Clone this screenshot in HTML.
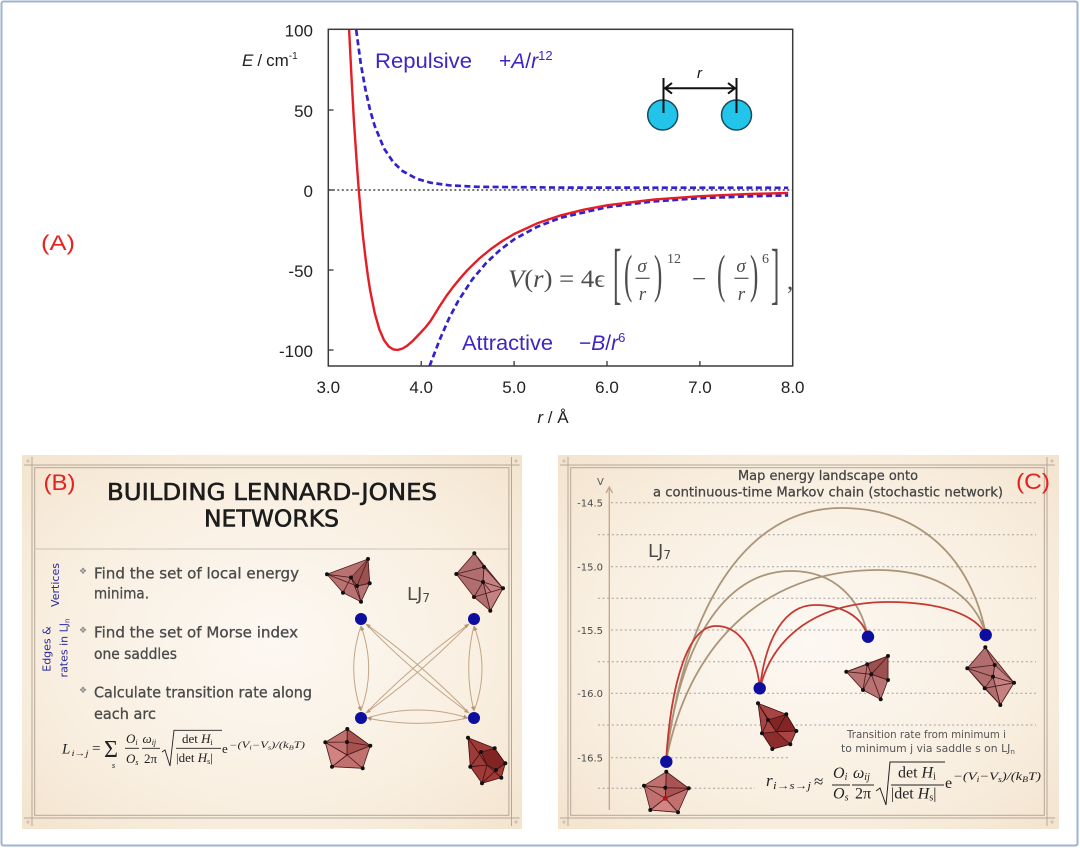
<!DOCTYPE html>
<html><head><meta charset="utf-8"><style>html,body{margin:0;padding:0;background:#fff}svg{display:block}</style></head>
<body>
<svg width="1080" height="848" viewBox="0 0 1080 848" xmlns="http://www.w3.org/2000/svg">
<defs>
<radialGradient id="cream" cx="50%" cy="50%" r="72%">
<stop offset="0" stop-color="#fcf8f2"/>
<stop offset="0.6" stop-color="#f9efe1"/>
<stop offset="1" stop-color="#f3e3cd"/>
</radialGradient>
<marker id="ah" viewBox="0 0 6 6" refX="5.5" refY="3" markerWidth="5" markerHeight="5" orient="auto"><path d="M0,0.5 L6,3 L0,5.5z" fill="#b39474"/></marker>
</defs>
<rect x="0" y="0" width="1080" height="848" fill="#fff"/>
<rect x="1.5" y="1.5" width="1076" height="844" rx="2" fill="none" stroke="#9fb3cf" stroke-width="2"/>

<!-- ===== Panel A ===== -->
<text x="41" y="250" font-family="Liberation Sans, sans-serif" font-size="21" fill="#e8201e" textLength="34" lengthAdjust="spacingAndGlyphs">(A)</text>

<g font-family="Liberation Sans, sans-serif" font-size="17" fill="#222" text-anchor="end">
<text x="313" y="36.5">100</text>
<text x="313" y="117.2">50</text>
<text x="313" y="197.2">0</text>
<text x="313" y="277.2">-50</text>
<text x="313" y="357.2">-100</text>
</g>
<g font-family="Liberation Sans, sans-serif" font-size="17" fill="#222" text-anchor="middle">
<text x="328.3" y="393">3.0</text>
<text x="421.2" y="393">4.0</text>
<text x="514.1" y="393">5.0</text>
<text x="607" y="393">6.0</text>
<text x="699.9" y="393">7.0</text>
<text x="792.7" y="393">8.0</text>
<text x="553" y="423"><tspan font-style="italic">r</tspan> / Å</text>
</g>
<text x="242" y="66" font-family="Liberation Sans, sans-serif" font-size="17" fill="#222"><tspan font-style="italic">E</tspan><tspan dx="4">/</tspan><tspan dx="4">cm</tspan><tspan font-size="10" dy="-7">-1</tspan></text>

<line x1="328.3" y1="190" x2="792.7" y2="190" stroke="#222" stroke-width="1.2" stroke-dasharray="2,2.5"/>
<g stroke="#333" stroke-width="1.3">
<line x1="328.3" y1="110" x2="333.5" y2="110"/>
<line x1="328.3" y1="190" x2="333.5" y2="190"/>
<line x1="328.3" y1="270" x2="333.5" y2="270"/>
<line x1="328.3" y1="350" x2="333.5" y2="350"/>
<line x1="421.2" y1="366" x2="421.2" y2="361"/>
<line x1="514.1" y1="366" x2="514.1" y2="361"/>
<line x1="607" y1="366" x2="607" y2="361"/>
<line x1="699.9" y1="366" x2="699.9" y2="361"/>
</g>

<!-- curves -->
<path d="M356.2,30 L360.8,63.8 L365.5,89.8 L370.1,110.2 L374.8,126.2 L384,148.4 L393.3,162.3 L402.6,171.1 L416.5,178.7 L430.5,182.7 L449,185.3 L476.9,186.8 L560.6,187.6 L788.2,187.8" fill="none" stroke="#3322cc" stroke-width="2.7" stroke-dasharray="6,3.4"/>
<path d="M429.6,366 L439.8,339.4 L449,318.4 L458.3,300.8 L472.3,279.4 L486.3,262.8 L500.2,249.8 L514.1,239.4 L537.4,226.7 L560.6,217.8 L607,207.1 L653.5,201.4 L699.9,198.2 L746.4,196.4 L788.2,195.4" fill="none" stroke="#3322cc" stroke-width="2.7" stroke-dasharray="6,3.4"/>
<path d="M349.1,29.5 L350.4,55.1 L351.5,77.2 L353.8,118.8 L356.2,155 L358.5,186.5 L360.8,213.8 L363.1,237.5 L365.5,257.8 L367.8,275.3 L370.1,290.2 L374.8,313.4 L379.4,329.5 L384,340.1 L388.7,346.5 L393.3,349.4 L398,349.9 L402.6,348.5 L407.3,345.6 L411.9,341.7 L416.5,337 L421.2,332 L425.8,327 L430.5,321 L435.1,313.6 L439.8,306 L446.7,295.5 L453.7,286.2 L460.7,277.7 L467.7,269.8 L479.3,258.5 L490.9,249 L502.5,240.9 L514.1,234 L537.3,223.3 L560.6,215.4 L583.8,209.7 L607,205.3 L653.5,199.6 L699.9,196.2 L746.4,194.1 L788.2,192.9" fill="none" stroke="#e51d24" stroke-width="2.4" stroke-linejoin="round"/>

<rect x="328.3" y="29.3" width="464.4" height="336.7" fill="none" stroke="#3a3a3a" stroke-width="1.5"/>

<g font-family="Liberation Sans, sans-serif" fill="#4024c4">
<text x="375" y="68" font-size="21" textLength="97" lengthAdjust="spacingAndGlyphs">Repulsive</text>
<text x="499" y="68" font-size="21">+<tspan font-style="italic">A</tspan>/<tspan font-style="italic">r</tspan><tspan font-size="13" dy="-8">12</tspan></text>
<text x="462" y="350" font-size="21" textLength="91" lengthAdjust="spacingAndGlyphs">Attractive</text>
<text x="579" y="350" font-size="21">−<tspan font-style="italic">B</tspan>/<tspan font-style="italic">r</tspan><tspan font-size="13" dy="-8">6</tspan></text>
</g>

<!-- inset -->
<circle cx="662.7" cy="115" r="15" fill="#22c4ea" stroke="#1a4a5a" stroke-width="1.5"/>
<circle cx="736.5" cy="115" r="15" fill="#22c4ea" stroke="#1a4a5a" stroke-width="1.5"/>
<g stroke="#111" stroke-width="2" fill="none">
<line x1="663.5" y1="78" x2="663.5" y2="113"/>
<line x1="736.5" y1="78" x2="736.5" y2="113"/>
<line x1="665" y1="88.3" x2="735" y2="88.3"/>
<path d="M672,83 L665,88.3 L672,93.6"/>
<path d="M728,83 L735,88.3 L728,93.6"/>
</g>
<text x="697" y="78" font-family="Liberation Sans, sans-serif" font-size="15" font-style="italic" fill="#111">r</text>

<!-- formula A -->
<g font-family="Liberation Serif, DejaVu Serif, serif" fill="#4d4d4d">
<text x="508" y="287" font-size="25" textLength="97" lengthAdjust="spacingAndGlyphs"><tspan font-style="italic">V</tspan>(<tspan font-style="italic">r</tspan>) = 4ϵ</text>
<text transform="translate(613,296) scale(1,2.7)" font-size="25">[</text>
<text transform="translate(624,291.5) scale(1,2.1)" font-size="25">(</text>
<text x="642" y="272" font-size="19" font-style="italic" text-anchor="middle">σ</text>
<text x="642.5" y="300" font-size="19" font-style="italic" text-anchor="middle">r</text>
<text transform="translate(654,291.5) scale(1,2.1)" font-size="25">)</text>
<text x="667" y="263" font-size="14">12</text>
<text x="692" y="287" font-size="25">−</text>
<text transform="translate(717,291.5) scale(1,2.1)" font-size="25">(</text>
<text x="741" y="272" font-size="19" font-style="italic" text-anchor="middle">σ</text>
<text x="741.5" y="300" font-size="19" font-style="italic" text-anchor="middle">r</text>
<text transform="translate(750,291.5) scale(1,2.1)" font-size="25">)</text>
<text x="762" y="263" font-size="14">6</text>
<text transform="translate(771,296) scale(1,2.7)" font-size="25">]</text>
<text x="787" y="289" font-size="25">,</text>
</g>
<g stroke="#4d4d4d" stroke-width="1.2">
<line x1="635.5" y1="278.3" x2="649.5" y2="278.3"/>
<line x1="734.5" y1="278.3" x2="748.5" y2="278.3"/>
</g>

<!-- ===== Panel B ===== -->
<rect x="22" y="455" width="500" height="374" fill="url(#cream)"/>
<g fill="none" stroke="#b5a797" stroke-width="1">
<rect x="32" y="465" width="479.5" height="353"/>
<rect x="34.7" y="467.7" width="474.2" height="347.6"/>
<path d="M24,465h8M32,457v8M511.5,457v8M511.5,465h8M24,818h8M32,818v8M511.5,818v8M511.5,818h8"/>
<path d="M26,461h4M28,459v4M514,461h4M516,459v4M26,822h4M28,820v4M514,822h4M516,820v4" stroke="#c9bcae"/>
</g>
<text x="43.5" y="490" font-family="Liberation Sans, sans-serif" font-size="22" fill="#e8201e" textLength="32" lengthAdjust="spacingAndGlyphs">(B)</text>
<g font-family="DejaVu Sans, sans-serif" fill="#1c1c1c" stroke="#1c1c1c" stroke-width="0.6">
<text x="107" y="500" font-size="23.5" textLength="330" lengthAdjust="spacingAndGlyphs">BUILDING LENNARD-JONES</text>
<text x="204" y="526.7" font-size="23.5" textLength="135" lengthAdjust="spacingAndGlyphs">NETWORKS</text>
</g>
<line x1="34" y1="549" x2="510" y2="549" stroke="#cbbfb2" stroke-width="1"/>

<g font-family="DejaVu Sans, sans-serif" font-size="11" fill="#2a2a9c" text-anchor="middle">
<text transform="translate(59,585) rotate(-90)">Vertices</text>
<text transform="translate(50.5,649) rotate(-90)">Edges &amp;</text>
<text transform="translate(67.5,648) rotate(-90)">rates in LJ<tspan font-size="7" dy="2">n</tspan></text>
</g>

<g font-family="DejaVu Sans, sans-serif" fill="#8a8a8a" font-size="9">
<text x="79" y="574">❖</text>
<text x="79" y="633">❖</text>
<text x="79" y="693">❖</text>
</g>
<g font-family="DejaVu Sans, sans-serif" fill="#4a4a4a" stroke="#4a4a4a" stroke-width="0.3" font-size="15">
<text x="94" y="578.3" textLength="205" lengthAdjust="spacingAndGlyphs">Find the set of local energy</text>
<text x="94" y="598.3" textLength="55" lengthAdjust="spacingAndGlyphs">minima.</text>
<text x="94" y="637.7" textLength="204" lengthAdjust="spacingAndGlyphs">Find the set of Morse index</text>
<text x="94" y="659" textLength="83" lengthAdjust="spacingAndGlyphs">one saddles</text>
<text x="94" y="697.7" textLength="218" lengthAdjust="spacingAndGlyphs">Calculate transition rate along</text>
<text x="94" y="719" textLength="62" lengthAdjust="spacingAndGlyphs">each arc</text>
</g>

<!-- formula B -->
<g font-family="Liberation Serif, DejaVu Serif, serif" fill="#222">
<text x="62" y="753.3" font-size="15" font-style="italic">L</text>
<text x="71.5" y="756" font-size="8.5" font-style="italic" textLength="17" lengthAdjust="spacingAndGlyphs">i→j</text>
<text x="92" y="753" font-size="15">=</text>
<text x="104" y="757" font-size="24">Σ</text>
<text x="113.5" y="768" font-size="8.5" font-style="italic" text-anchor="middle">s</text>
<text x="126" y="743" font-size="13" font-style="italic">O<tspan font-size="8" dy="2">i</tspan></text>
<text x="126" y="763" font-size="13" font-style="italic">O<tspan font-size="8" dy="2">s</tspan></text>
<text x="142.5" y="743" font-size="13" font-style="italic">ω<tspan font-size="8" dy="2">ij</tspan></text>
<text x="144" y="763" font-size="13">2π</text>
<text x="182" y="743" font-size="13">det <tspan font-style="italic">H</tspan><tspan font-size="8" dy="2">i</tspan></text>
<text x="176" y="762" font-size="13">|det <tspan font-style="italic">H</tspan><tspan font-size="8" dy="2">s</tspan><tspan dy="-2">|</tspan></text>
<text x="222" y="753" font-size="13">e</text>
<text x="229" y="748" font-size="9" font-style="italic" textLength="76" lengthAdjust="spacingAndGlyphs">−(V<tspan font-size="6" dy="1.5">i</tspan><tspan dy="-1.5">−V</tspan><tspan font-size="6" dy="1.5">s</tspan><tspan dy="-1.5">)/(k</tspan><tspan font-size="6" dy="1.5">B</tspan><tspan dy="-1.5">T)</tspan></text>
</g>
<g stroke="#222" stroke-width="0.9" fill="none">
<line x1="125" y1="748.3" x2="139" y2="748.3"/>
<line x1="142" y1="748.3" x2="160" y2="748.3"/>
<line x1="176" y1="748.3" x2="221" y2="748.3"/>
<path d="M162,752 L165,750 L170,766 L174,730.3 L222,730.3"/>
</g>

<!-- network B -->
<g fill="none" stroke="#c2a584" stroke-width="1">
<path d="M361,626 Q346.4,668.5 361,711" marker-end="url(#ah)"/>
<path d="M361,711 Q376.4,668.5 361,626" marker-end="url(#ah)"/>
<path d="M474,626 Q463.4,668.5 474,711" marker-end="url(#ah)"/>
<path d="M474,711 Q490,668.5 474,626" marker-end="url(#ah)"/>
<path d="M367,718 Q417.5,702 468,718" marker-end="url(#ah)"/>
<path d="M468,718 Q417.5,728.7 367,718" marker-end="url(#ah)"/>
<path d="M366,624 Q413.5,673 469,713" marker-end="url(#ah)"/>
<path d="M469,713 Q421.5,664 366,624" marker-end="url(#ah)"/>
<path d="M469,624 Q421.5,673 366,713" marker-end="url(#ah)"/>
<path d="M366,713 Q413.5,664 469,624" marker-end="url(#ah)"/>
</g>
<g fill="#0d0d9e">
<circle cx="361" cy="619" r="6"/>
<circle cx="474" cy="619" r="6"/>
<circle cx="361" cy="718" r="6"/>
<circle cx="474" cy="718" r="6"/>
</g>
<text x="407" y="600" font-family="DejaVu Sans, sans-serif" font-size="18" fill="#4a4a4a">LJ<tspan font-size="12" dy="2">7</tspan></text>

<!-- molecules B -->
<g stroke="#4a1a1a" stroke-width="0.8">
<polygon points="327,574.3 368,559 369.7,583.3 361,601.7 343,592.7" fill="#b87271"/>
<polygon points="351,577.5 368,559 369.7,583.3 357,586" fill="#934546" opacity="0.75"/>
<path d="M351,577.5L327,574.3M351,577.5L343,592.7M351,577.5L361,601.7M357,586L327,574.3M357,586L361,601.7M357,586L369.7,583.3M351,577.5L357,586M368,559L357,586" fill="none"/>
</g>
<g fill="#111"><circle cx="327" cy="574.3" r="2"/><circle cx="368" cy="559" r="2"/><circle cx="369.7" cy="583.3" r="2"/><circle cx="361" cy="601.7" r="2"/><circle cx="343" cy="592.7" r="2"/><circle cx="351" cy="577.5" r="2"/><circle cx="357" cy="586" r="2"/></g>

<g stroke="#4a1a1a" stroke-width="0.8">
<polygon points="474.3,553.3 456.3,574 474,597 490.3,610.7 503,588.3" fill="#b06e6e"/>
<polygon points="484,567 503,588.3 490.3,610.7 483,582" fill="#c98686" opacity="0.8"/>
<path d="M484,567L474.3,553.3M484,567L456.3,574M484,567L503,588.3M483,582L456.3,574M483,582L474,597M483,582L503,588.3M483,582L490.3,610.7M491,592L474,597M491,592L503,588.3M484,567L483,582M483,582L491,592" fill="none"/>
</g>
<g fill="#111"><circle cx="474.3" cy="553.3" r="2"/><circle cx="456.3" cy="574" r="2"/><circle cx="474" cy="597" r="2"/><circle cx="490.3" cy="610.7" r="2"/><circle cx="503" cy="588.3" r="2"/><circle cx="484" cy="567" r="2"/><circle cx="483" cy="582" r="2"/></g>

<g stroke="#4a1a1a" stroke-width="0.8">
<polygon points="347.3,729 370.3,745.7 362.7,768.3 332,766.7 325.3,742.3" fill="#c0716f"/>
<polygon points="347,755 347.3,729 370.3,745.7" fill="#a24a4a" opacity="0.8"/>
<polygon points="347,755 332,766.7 325.3,742.3" fill="#d48886" opacity="0.8"/>
<path d="M347,755L347.3,729M347,755L370.3,745.7M347,755L362.7,768.3M347,755L332,766.7M347,755L325.3,742.3M347,742L325.3,742.3M347,742L370.3,745.7" fill="none"/>
</g>
<g fill="#111"><circle cx="347.3" cy="729" r="2"/><circle cx="370.3" cy="745.7" r="2"/><circle cx="362.7" cy="768.3" r="2"/><circle cx="332" cy="766.7" r="2"/><circle cx="325.3" cy="742.3" r="2"/><circle cx="347" cy="742" r="2"/></g>

<g stroke="#3a1010" stroke-width="0.8">
<polygon points="468,737.7 494.7,748.3 505.3,763.3 501.3,777.7 482,783.3 470.3,766.7" fill="#9e3a38"/>
<polygon points="481,752 494.7,748.3 505.3,763.3 496,770 487,765" fill="#7e2222" opacity="0.9"/>
<path d="M487,765L468,737.7M487,765L482,783.3M487,765L501.3,777.7M487,765L470.3,766.7M481,752L470.3,766.7M496,770L482,783.3M496,770L505.3,763.3" fill="none"/>
</g>
<g fill="#111"><circle cx="468" cy="737.7" r="2"/><circle cx="494.7" cy="748.3" r="2"/><circle cx="505.3" cy="763.3" r="2"/><circle cx="501.3" cy="777.7" r="2"/><circle cx="482" cy="783.3" r="2"/><circle cx="470.3" cy="766.7" r="2"/><circle cx="481" cy="752" r="2"/><circle cx="496" cy="770" r="2"/></g>

<!-- ===== Panel C ===== -->
<rect x="558" y="455" width="501" height="374" fill="url(#cream)"/>
<g fill="none" stroke="#b5a797" stroke-width="1">
<rect x="568" y="465" width="479" height="353"/>
<rect x="570.7" y="467.7" width="473.6" height="347.6"/>
<path d="M560,465h8M568,457v8M1047,457v8M1047,465h8M560,818h8M568,818v8M1047,818v8M1047,818h8"/>
<path d="M562,461h4M564,459v4M1050,461h4M1052,459v4M562,822h4M564,820v4M1050,822h4M1052,820v4" stroke="#c9bcae"/>
</g>

<g fill="none" stroke="#a0a0a0" stroke-width="1" stroke-dasharray="2,2.6">
<line x1="611" y1="502.7" x2="1036" y2="502.7"/>
<line x1="598" y1="534.7" x2="1036" y2="534.7"/>
<line x1="611" y1="566.7" x2="1036" y2="566.7"/>
<line x1="598" y1="598.3" x2="1036" y2="598.3"/>
<line x1="611" y1="630" x2="1036" y2="630"/>
<line x1="598" y1="661.7" x2="1036" y2="661.7"/>
<line x1="611" y1="693.3" x2="1036" y2="693.3"/>
<line x1="598" y1="725" x2="1036" y2="725"/>
<line x1="611" y1="757.7" x2="788" y2="757.7"/>
<line x1="598" y1="788.3" x2="755" y2="788.3"/>
</g>
<g stroke="#c4a48a" stroke-width="1.3" fill="none">
<line x1="609.3" y1="487" x2="609.3" y2="810"/>
<path d="M606,493 L609.3,487 L612.6,493"/>
</g>
<g font-family="DejaVu Sans, sans-serif" font-size="10" fill="#4a4a4a" text-anchor="end">
<text x="603" y="506.5">-14.5</text>
<text x="603" y="570.5">-15.0</text>
<text x="603" y="634">-15.5</text>
<text x="603" y="697">-16.0</text>
<text x="603" y="761.5">-16.5</text>
</g>
<text x="597" y="485" font-family="DejaVu Sans, sans-serif" font-size="10" fill="#555">V</text>

<g font-family="DejaVu Sans, sans-serif" font-size="13.3" fill="#444" stroke="#444" stroke-width="0.25" text-anchor="middle">
<text x="828" y="480" textLength="180" lengthAdjust="spacingAndGlyphs">Map energy landscape onto</text>
<text x="828" y="496.7" textLength="350" lengthAdjust="spacingAndGlyphs">a continuous-time Markov chain (stochastic network)</text>
</g>
<text x="1016" y="489" font-family="Liberation Sans, sans-serif" font-size="22" fill="#e8201e" textLength="34" lengthAdjust="spacingAndGlyphs">(C)</text>
<text x="648" y="557" font-family="DejaVu Sans, sans-serif" font-size="18" fill="#4a4a4a">LJ<tspan font-size="12" dy="2">7</tspan></text>

<!-- arcs C -->
<g fill="none" stroke-width="1.8">
<path d="M666,762 C683.5,609.6 744.75,508 841,508 C920.75,508 971.5,558.8 986,635" stroke="#ab9578"/>
<path d="M666,762 C678.5,647.4 722.25,571 791,571 C833.35,571 860.3,597.4 868,637" stroke="#ab9578"/>
<path d="M666,762 C687.2,646.8 761.4,570 878,570 C937.4,570 975.2,596 986,635" stroke="#ab9578"/>
<path d="M666,762 C671,680.4 688.5,626 716,626 C740.2,626 755.6,650.8 760,688" stroke="#c43a33"/>
<path d="M760,688 C765.5,638.2 784.75,605 815,605 C844.15,605 862.7,617.8 868,637" stroke="#c43a33"/>
<path d="M760,688 C772.8,636.4 817.6,602 888,602 C941.9,602 976.2,615.2 986,635" stroke="#c43a33"/>
</g>
<g fill="#0d0d9e">
<circle cx="666.3" cy="761.7" r="6.2"/>
<circle cx="759.7" cy="688.3" r="6.2"/>
<circle cx="868" cy="636.7" r="6.2"/>
<circle cx="985.7" cy="635" r="6.2"/>
</g>

<!-- molecules C -->
<g stroke="#4a1a1a" stroke-width="0.8">
<polygon points="666.3,771.7 688.7,788.3 678,812.3 650.3,810 644,785.7" fill="#c0716f"/>
<polygon points="665.3,798.3 666.3,771.7 688.7,788.3" fill="#a44c4c" opacity="0.8"/>
<polygon points="665.3,798.3 650.3,810 678,812.3" fill="#d78a88" opacity="0.8"/>
<path d="M665.3,798.3L666.3,771.7M665.3,798.3L688.7,788.3M665.3,798.3L678,812.3M665.3,798.3L650.3,810M665.3,798.3L644,785.7M665.3,787.7L644,785.7M665.3,787.7L688.7,788.3" fill="none"/>
</g>
<circle cx="665.3" cy="798.3" r="2.5" fill="#b01818"/>
<g fill="#111"><circle cx="666.3" cy="771.7" r="2"/><circle cx="688.7" cy="788.3" r="2"/><circle cx="678" cy="812.3" r="2"/><circle cx="650.3" cy="810" r="2"/><circle cx="644" cy="785.7" r="2"/><circle cx="665.3" cy="787.7" r="2"/></g>

<g stroke="#3a1010" stroke-width="0.8">
<polygon points="758,703.3 786.3,714.3 796.3,731 790.3,744.3 772.3,749 762,733.3" fill="#a84444"/>
<polygon points="768,720 786.3,714.3 796.3,731 776.3,731.7" fill="#7e2222" opacity="0.9"/>
<polygon points="776.3,731.7 790.3,744.3 772.3,749 762,733.3" fill="#8a2a2a" opacity="0.9"/>
<path d="M776.3,731.7L758,703.3M776.3,731.7L786.3,714.3M776.3,731.7L796.3,731M768,720L762,733.3M768,720L758,703.3" fill="none"/>
</g>
<g fill="#111"><circle cx="758" cy="703.3" r="2"/><circle cx="786.3" cy="714.3" r="2"/><circle cx="796.3" cy="731" r="2"/><circle cx="790.3" cy="744.3" r="2"/><circle cx="772.3" cy="749" r="2"/><circle cx="762" cy="733.3" r="2"/><circle cx="768" cy="720" r="2"/></g>

<g stroke="#4a1a1a" stroke-width="0.8">
<polygon points="846.3,671.7 888,656 888,680 880.7,699.3 863,690" fill="#b87271"/>
<polygon points="867.3,664.3 888,656 888,680 871.3,674.3" fill="#934546" opacity="0.75"/>
<path d="M871.3,674.3L846.3,671.7M871.3,674.3L863,690M871.3,674.3L880.7,699.3M871.3,674.3L888,680M867.3,664.3L846.3,671.7M867.3,664.3L863,690M867.3,664.3L871.3,674.3M888,656L871.3,674.3" fill="none"/>
</g>
<g fill="#111"><circle cx="846.3" cy="671.7" r="2"/><circle cx="888" cy="656" r="2"/><circle cx="888" cy="680" r="2"/><circle cx="880.7" cy="699.3" r="2"/><circle cx="863" cy="690" r="2"/><circle cx="871.3" cy="674.3" r="2"/><circle cx="867.3" cy="664.3" r="2"/></g>

<g stroke="#4a1a1a" stroke-width="0.8">
<polygon points="985.3,647.3 967.3,668.3 1000.3,705 1014,682.7" fill="#b06e6e"/>
<polygon points="994.7,665 1014,682.7 1000.3,705 993,676.7" fill="#c98686" opacity="0.8"/>
<path d="M994.7,665L985.3,647.3M994.7,665L967.3,668.3M993,676.7L967.3,668.3M993,676.7L1014,682.7M993,676.7L1000.3,705M984.7,688.3L967.3,668.3M984.7,688.3L1000.3,705M984.7,688.3L1014,682.7M994.7,665L993,676.7M993,676.7L984.7,688.3" fill="none"/>
</g>
<g fill="#111"><circle cx="985.3" cy="647.3" r="2"/><circle cx="967.3" cy="668.3" r="2"/><circle cx="1000.3" cy="705" r="2"/><circle cx="1014" cy="682.7" r="2"/><circle cx="993" cy="676.7" r="2"/><circle cx="994.7" cy="665" r="2"/><circle cx="984.7" cy="688.3" r="2"/></g>

<g font-family="DejaVu Sans, sans-serif" font-size="10.2" fill="#555">
<text x="847" y="738" textLength="159" lengthAdjust="spacingAndGlyphs">Transition rate from minimum i</text>
<text x="841" y="752" textLength="174" lengthAdjust="spacingAndGlyphs">to minimum j via saddle s on LJ<tspan font-size="7" dy="2">n</tspan></text>
</g>

<!-- formula C -->
<g font-family="Liberation Serif, DejaVu Serif, serif" fill="#222">
<text x="766" y="786" font-size="17" font-style="italic">r</text>
<text x="773" y="789" font-size="10" font-style="italic" textLength="38" lengthAdjust="spacingAndGlyphs">i→s→j</text>
<text x="814" y="787" font-size="17">≈</text>
<text x="833" y="778" font-size="16" font-style="italic">O<tspan font-size="10" dy="2">i</tspan></text>
<text x="833" y="798.3" font-size="16" font-style="italic">O<tspan font-size="10" dy="2">s</tspan></text>
<text x="853" y="778" font-size="16" font-style="italic">ω<tspan font-size="10" dy="2">ij</tspan></text>
<text x="855" y="798.3" font-size="16">2π</text>
<text x="898" y="777.7" font-size="16">det <tspan font-style="italic">H</tspan><tspan font-size="10" dy="2">i</tspan></text>
<text x="891" y="798.3" font-size="16">|det <tspan font-style="italic">H</tspan><tspan font-size="10" dy="2">s</tspan><tspan dy="-2">|</tspan></text>
<text x="945" y="788" font-size="16">e</text>
<text x="953" y="780" font-size="12" font-style="italic" textLength="88" lengthAdjust="spacingAndGlyphs">−(V<tspan font-size="8" dy="2">i</tspan><tspan dy="-2">−V</tspan><tspan font-size="8" dy="2">s</tspan><tspan dy="-2">)/(k</tspan><tspan font-size="8" dy="2">B</tspan><tspan dy="-2">T)</tspan></text>
</g>
<g stroke="#222" stroke-width="1" fill="none">
<line x1="832" y1="785" x2="850" y2="785"/>
<line x1="852" y1="785" x2="874" y2="785"/>
<line x1="891" y1="785" x2="944" y2="785"/>
<path d="M876,791 L880,788 L886,805 L890,762 L945,762"/>
</g>
</svg>
</body></html>
